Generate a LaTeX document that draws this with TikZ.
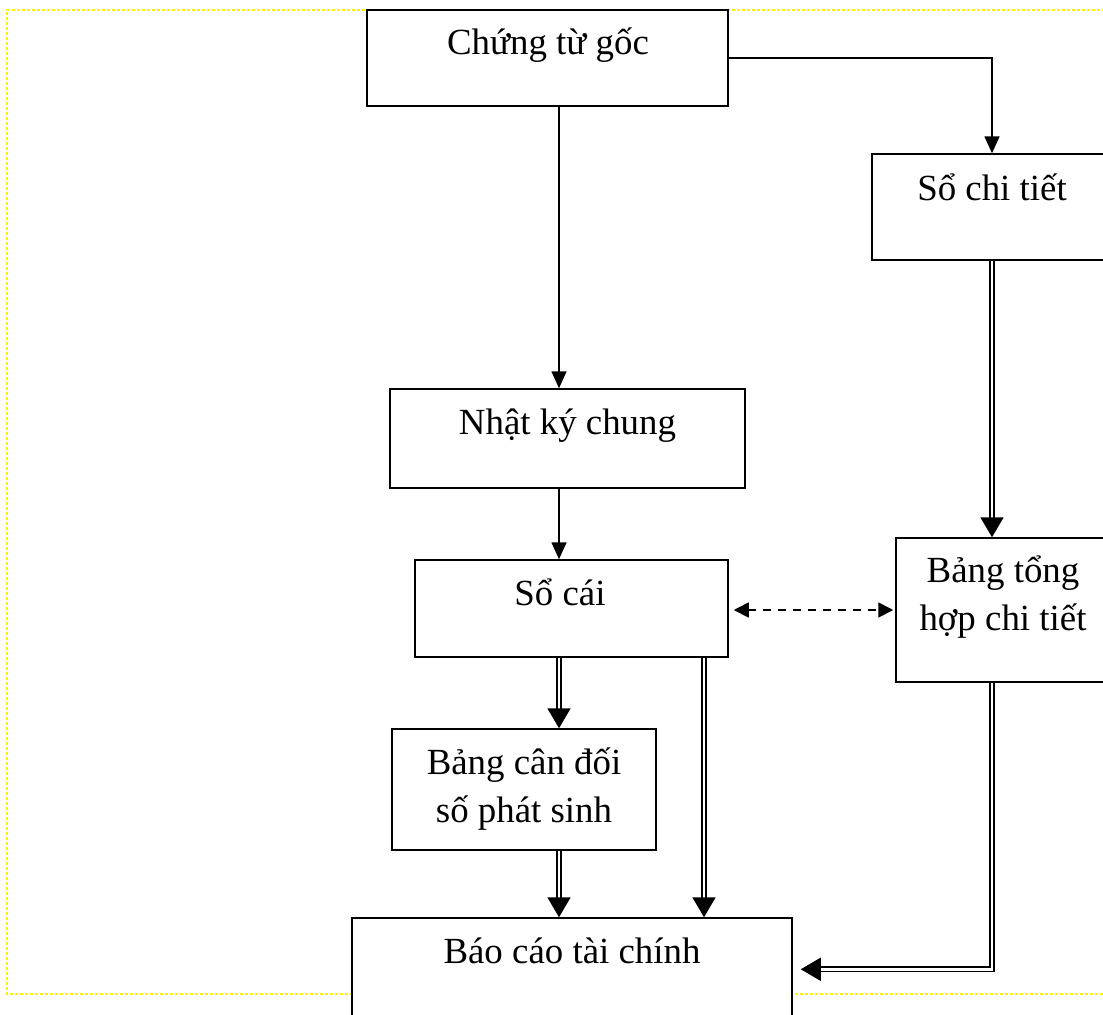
\documentclass[tikz,border=0pt]{standalone}
\usepackage{fontspec}
\setmainfont{Liberation Serif}
\usetikzlibrary{arrows.meta,calc}
\begin{document}
\begin{tikzpicture}[x=1bp,y=-1bp,
  box/.style={draw=black, fill=white, line width=1.5bp, inner sep=0pt},
  lbl/.style={anchor=base, inner sep=0pt, font=\fontsize{37}{44}\selectfont},
  flow/.style={line width=1.7bp, -{Triangle[width=15bp,length=17bp]}},
  dflow/.style={line width=1.8bp, double, double distance=2.6bp, line join=miter,
    -{Triangle[width=23bp,length=20bp]}},
  link/.style={line width=1.8bp, dash pattern=on 8bp off 7bp,
    {Triangle[width=15bp,length=15bp]}-{Triangle[width=15bp,length=15bp]}},
  frame/.style={draw=yellow, line width=1.4bp, dash pattern=on 3bp off 2bp}]
\useasboundingbox (0,0) rectangle (1103,1015);

% page frame
\draw[frame] (1120,10) -- (7,10) -- (7,994) -- (1120,994);

% boxes
\node[box, minimum width=361bp, minimum height=96bp]  (cg)  at (547.5,58)  {};
\node[box, minimum width=240bp, minimum height=106bp] (sct) at (992,207)   {};
\node[box, minimum width=355bp, minimum height=99bp]  (nkc) at (567.5,438.5) {};
\node[box, minimum width=313bp, minimum height=97bp]  (sc)  at (571.5,608.5) {};
\node[box, minimum width=214bp, minimum height=144bp] (bth) at (1003,610)  {};
\node[box, minimum width=264bp, minimum height=121bp] (bcd) at (524,789.5) {};
\node[box, minimum width=440bp, minimum height=112bp] (bc)  at (572,974)   {};

% labels
\node[lbl] (tcg)  at (548,54)    {Chứng từ gốc};
\node[lbl] (tsct) at (992,200)   {Sổ chi tiết};
\node[lbl] (tnkc) at (567.5,434) {Nhật ký chung};
\node[lbl] (tsc)  at (560,605)   {Sổ cái};
\node[lbl] (tbth1) at (1003,582) {Bảng tổng};
\node[lbl] (tbth2) at (1003,630) {hợp chi tiết};
\node[lbl] (tbcd1) at (524,774)  {Bảng cân đối};
\node[lbl] (tbcd2) at (524,822)  {số phát sinh};
\node[lbl] (tbc)  at (572,963)   {Báo cáo tài chính};

% connector columns
\coordinate (ax) at (559,0);
\coordinate (bx) at (704,0);
\coordinate (cx) at (992,0);

% single-line flows
\draw[flow] (cg.east) -| (sct.north);
\draw[flow] (cg.south -| ax) -- (nkc.north -| ax);
\draw[flow] (nkc.south -| ax) -- (sc.north -| ax);

% double-line flows
\draw[dflow] (sct.south -| cx) -- (bth.north -| cx);
\draw[dflow] (sc.south -| ax) -- (bcd.north -| ax);
\draw[dflow] (bcd.south -| ax) -- (bc.north -| ax);
\draw[dflow] (sc.south -| bx) -- (bc.north -| bx);
\draw[dflow] (bth.south -| cx) |- ($(bc.north east)+(8,52)$);

% two-way link
\draw[link] ($(sc.east |- bth.west)+(5,0)$) -- ($(bth.west)+(-2,0)$);
\end{tikzpicture}
\end{document}
